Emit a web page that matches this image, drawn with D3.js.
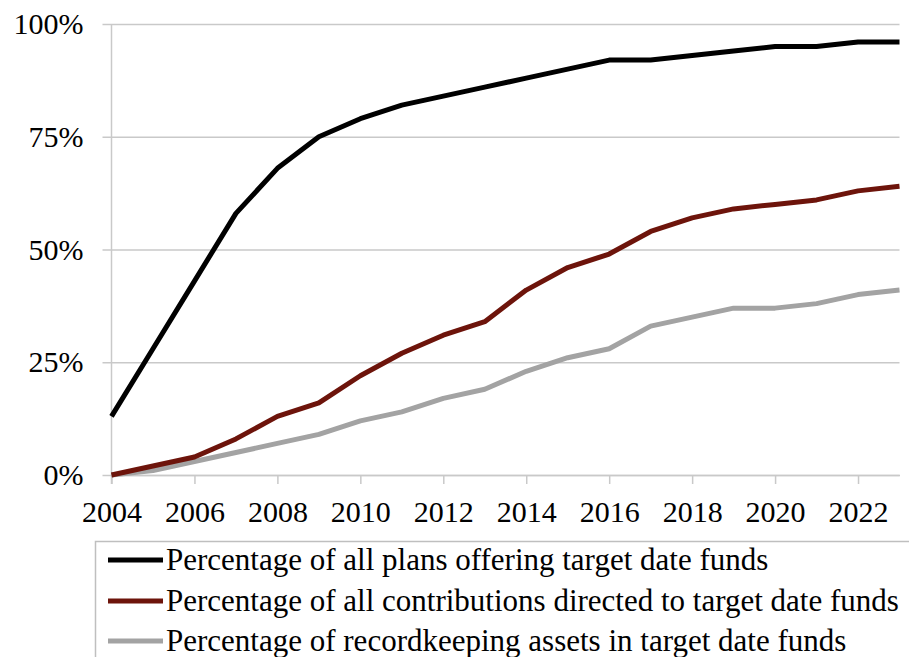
<!DOCTYPE html>
<html>
<head>
<meta charset="utf-8">
<script src="https://cdn.jsdelivr.net/npm/d3@7"></script>
<style>
  html, body { margin: 0; padding: 0; background: #fff; }
  svg text { font-family: "Liberation Serif", "Times New Roman", Times, "DejaVu Serif", "Noto Serif", serif !important; }
</style>
</head>
<body>
<svg id="chart" width="909" height="657"></svg>
<script>
const years = [2004,2005,2006,2007,2008,2009,2010,2011,2012,2013,2014,2015,2016,2017,2018,2019,2020,2021,2022,2023];
const plansOffering = [13,28,43,58,68,75,79,82,84,86,88,90,92,92,93,94,95,95,96,96];
const contributions = [0,2,4,8,13,16,22,27,31,34,41,46,49,54,57,59,60,61,63,64];
const recordkeeping = [0,1,3,5,7,9,12,14,17,19,23,26,28,33,35,37,37,38,40,41];
const seriesNames = [
  "Percentage of all plans offering target date funds",
  "Percentage of all contributions directed to target date funds",
  "Percentage of recordkeeping assets in target date funds"
];
const seriesColors = ["#000000", "#6d140b", "#a3a3a3"];
const yTicks = [0, 0.25, 0.5, 0.75, 1];
const xTicks = [2004,2006,2008,2010,2012,2014,2016,2018,2020,2022];

const series = [plansOffering, contributions, recordkeeping];
const FONT = "'Liberation Serif', 'Times New Roman', Times, 'DejaVu Serif', serif";

const svg = d3.select("#chart");
const x = d3.scaleLinear().domain([2004, 2023]).range([111.5, 899.5]);
const y = d3.scaleLinear().domain([0, 1]).range([475, 24]);
const gridColor = "#c9c9c9";

// Horizontal gridlines + y-axis labels
const yAxis = d3.axisLeft(y).tickValues(yTicks)
  .tickFormat(d => Math.round(d * 100) + "%")
  .tickSize(-(899.5 - 111.5)).tickPadding(19);
const gy = svg.append("g").attr("transform", "translate(111.5,0)").call(yAxis)
  .attr("font-family", FONT);
gy.select(".domain").remove();
gy.selectAll(".tick line").attr("stroke", gridColor).attr("stroke-width", 1.5).attr("x1", -9);
gy.selectAll(".tick text").attr("font-size", 30).attr("fill", "#000")
  .style("font-family", FONT).attr("x", -28);

// X axis
const xAxis = d3.axisBottom(x).tickValues(xTicks).tickFormat(d3.format("d"))
  .tickSize(9).tickSizeOuter(0).tickPadding(17);
const gx = svg.append("g").attr("transform", "translate(0,475)").call(xAxis)
  .attr("font-family", FONT);
gx.select(".domain").attr("stroke", gridColor).attr("stroke-width", 1.5);
gx.selectAll(".tick line").attr("stroke", gridColor).attr("stroke-width", 1.5);
gx.selectAll(".tick text").attr("font-size", 30).attr("fill", "#000")
  .style("font-family", FONT);

// Vertical axis line
svg.append("line").attr("x1", x(2004)).attr("x2", x(2004))
  .attr("y1", y(1)).attr("y2", y(0) + 9)
  .attr("stroke", gridColor).attr("stroke-width", 1.5);

// Lines (draw gray first, then red, then black on top)
const line = d3.line().x((d, i) => x(years[i])).y(d => y(d / 100));
[2, 1, 0].forEach(k => {
  svg.append("path").datum(series[k])
    .attr("d", line)
    .attr("fill", "none")
    .attr("stroke", seriesColors[k])
    .attr("stroke-width", 5)
    .attr("stroke-linejoin", "round");
});

// Legend
const legend = svg.append("g");
legend.append("rect").attr("x", 95.5).attr("y", 541.5).attr("width", 830).attr("height", 140)
  .attr("fill", "none").attr("stroke", "#bfbfbf").attr("stroke-width", 1.5);
const rowY = [560, 601, 641];
seriesNames.forEach((name, i) => {
  legend.append("line").attr("x1", 108).attr("x2", 163)
    .attr("y1", rowY[i]).attr("y2", rowY[i])
    .attr("stroke", seriesColors[i]).attr("stroke-width", 5);
  legend.append("text").attr("x", 166).attr("y", rowY[i])
    .attr("dy", "0.33em").attr("font-size", 31).attr("fill", "#000")
    .style("font-family", FONT)
    .text(name);
});
</script>
</body>
</html>
